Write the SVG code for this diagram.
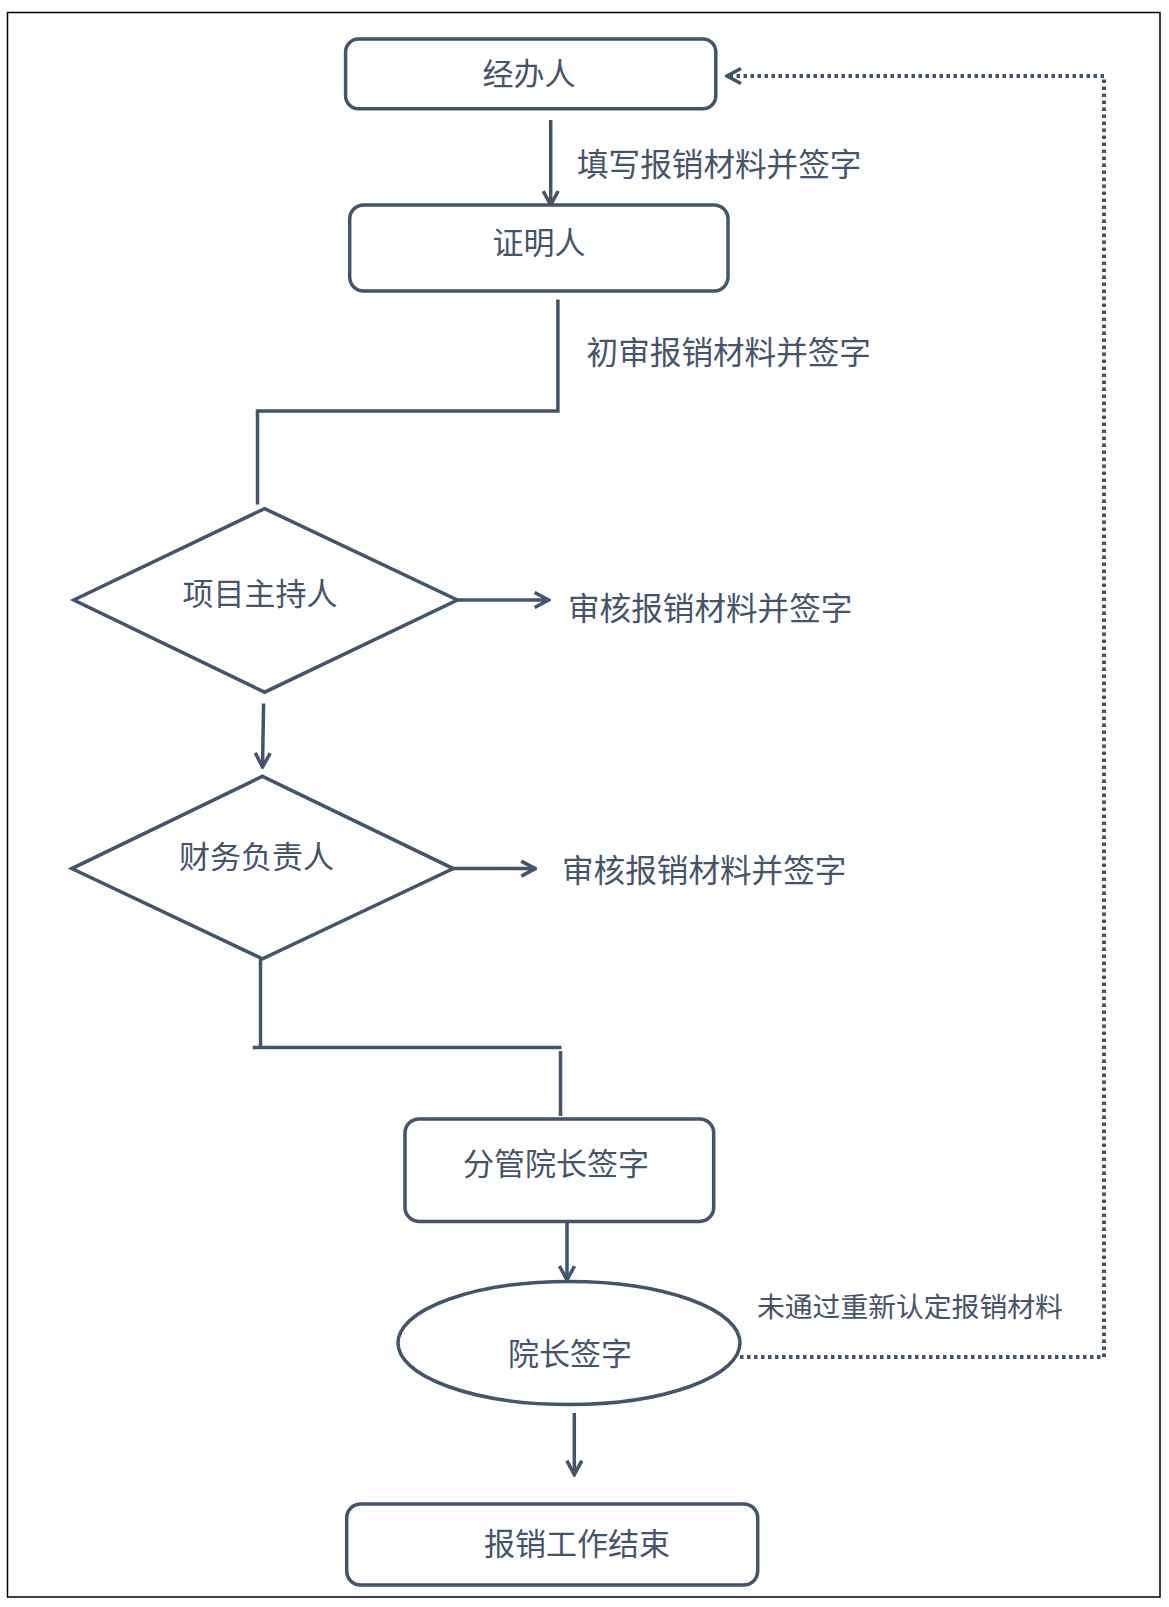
<svg xmlns="http://www.w3.org/2000/svg" width="1169" height="1607" viewBox="0 0 1169 1607">
<style>
.box{fill:#fff;stroke:#44546A;stroke-width:3.5}
.ln{fill:none;stroke:#44546A;stroke-width:3.5}
.dot{fill:none;stroke:#44546A;stroke-width:4;stroke-dasharray:3.5 3.5}
.nt{font-family:"Noto Sans CJK SC","Noto Sans",sans-serif;font-size:31px;fill:#44546A;text-anchor:middle;dominant-baseline:central}
.et{font-family:"Noto Sans CJK SC","Noto Sans",sans-serif;font-size:31.6px;fill:#44546A;dominant-baseline:central}
</style>
<defs>
<marker id="arr" viewBox="0 0 18 18" refX="16" refY="9" markerWidth="18" markerHeight="18" orient="auto" markerUnits="userSpaceOnUse">
<path d="M2,1.5 L16,9 L2,16.5" fill="none" stroke="#44546A" stroke-width="3.5" stroke-dasharray="none"/>
</marker>
</defs>
<rect x="7.5" y="12.5" width="1152.5" height="1584.5" fill="#fff" stroke="#000" stroke-width="1.5"/>
<g id="connectors">
<path class="ln" d="M550.7,120 V205" marker-end="url(#arr)"/>
<path class="ln" d="M557.9,299.5 V411 H257.5 V504.5"/>
<path class="ln" d="M457.4,600 H548.6" marker-end="url(#arr)"/>
<path class="ln" d="M263.6,703.5 L262.5,767" marker-end="url(#arr)"/>
<path class="ln" d="M453.3,868.6 H535.3" marker-end="url(#arr)"/>
<path class="ln" d="M260.5,958.8 V1047.5"/>
<path class="ln" d="M252.7,1047.5 H561.5"/>
<path class="ln" d="M560.5,1051 V1116"/>
<path class="ln" d="M567,1221 V1280" marker-end="url(#arr)"/>
<path class="ln" d="M574.3,1413 V1474.7" marker-end="url(#arr)"/>
<path class="dot" d="M740,1357 H1104 V76 H727" marker-end="url(#arr)"/>
<text class="et" x="577" y="162">填写报销材料并签字</text>
<text class="et" x="586.6" y="349.7">初审报销材料并签字</text>
<text class="et" x="568" y="606">审核报销材料并签字</text>
<text class="et" x="562" y="867.6">审核报销材料并签字</text>
<text class="et" x="757" y="1305" style="font-size:27.8px">未通过重新认定报销材料</text>
</g>
<g id="n1"><rect class="box" x="345.6" y="39" width="370.2" height="69.7" rx="13"/><text class="nt" x="529" y="71">经办人</text></g>
<g id="n2"><rect class="box" x="349.7" y="205" width="378.3" height="86" rx="14"/><text class="nt" x="539" y="240">证明人</text></g>
<g id="n3"><polygon class="box" points="264.6,508.6 457.4,600 264.6,692.2 73.8,600"/><text class="nt" x="260" y="591">项目主持人</text></g>
<g id="n4"><polygon class="box" points="262.5,776.3 453.3,868.6 262.5,958.8 71.8,868.6"/><text class="nt" x="256.4" y="854">财务负责人</text></g>
<g id="n5"><rect class="box" x="405" y="1119" width="308.7" height="102.4" rx="14"/><text class="nt" x="556" y="1161">分管院长签字</text></g>
<g id="n6"><ellipse class="box" cx="569" cy="1343" rx="171" ry="61.5"/><text class="nt" x="570" y="1351">院长签字</text></g>
<g id="n7"><rect class="box" x="346.7" y="1504" width="411" height="81" rx="14"/><text class="nt" x="577" y="1541">报销工作结束</text></g>
</svg>
